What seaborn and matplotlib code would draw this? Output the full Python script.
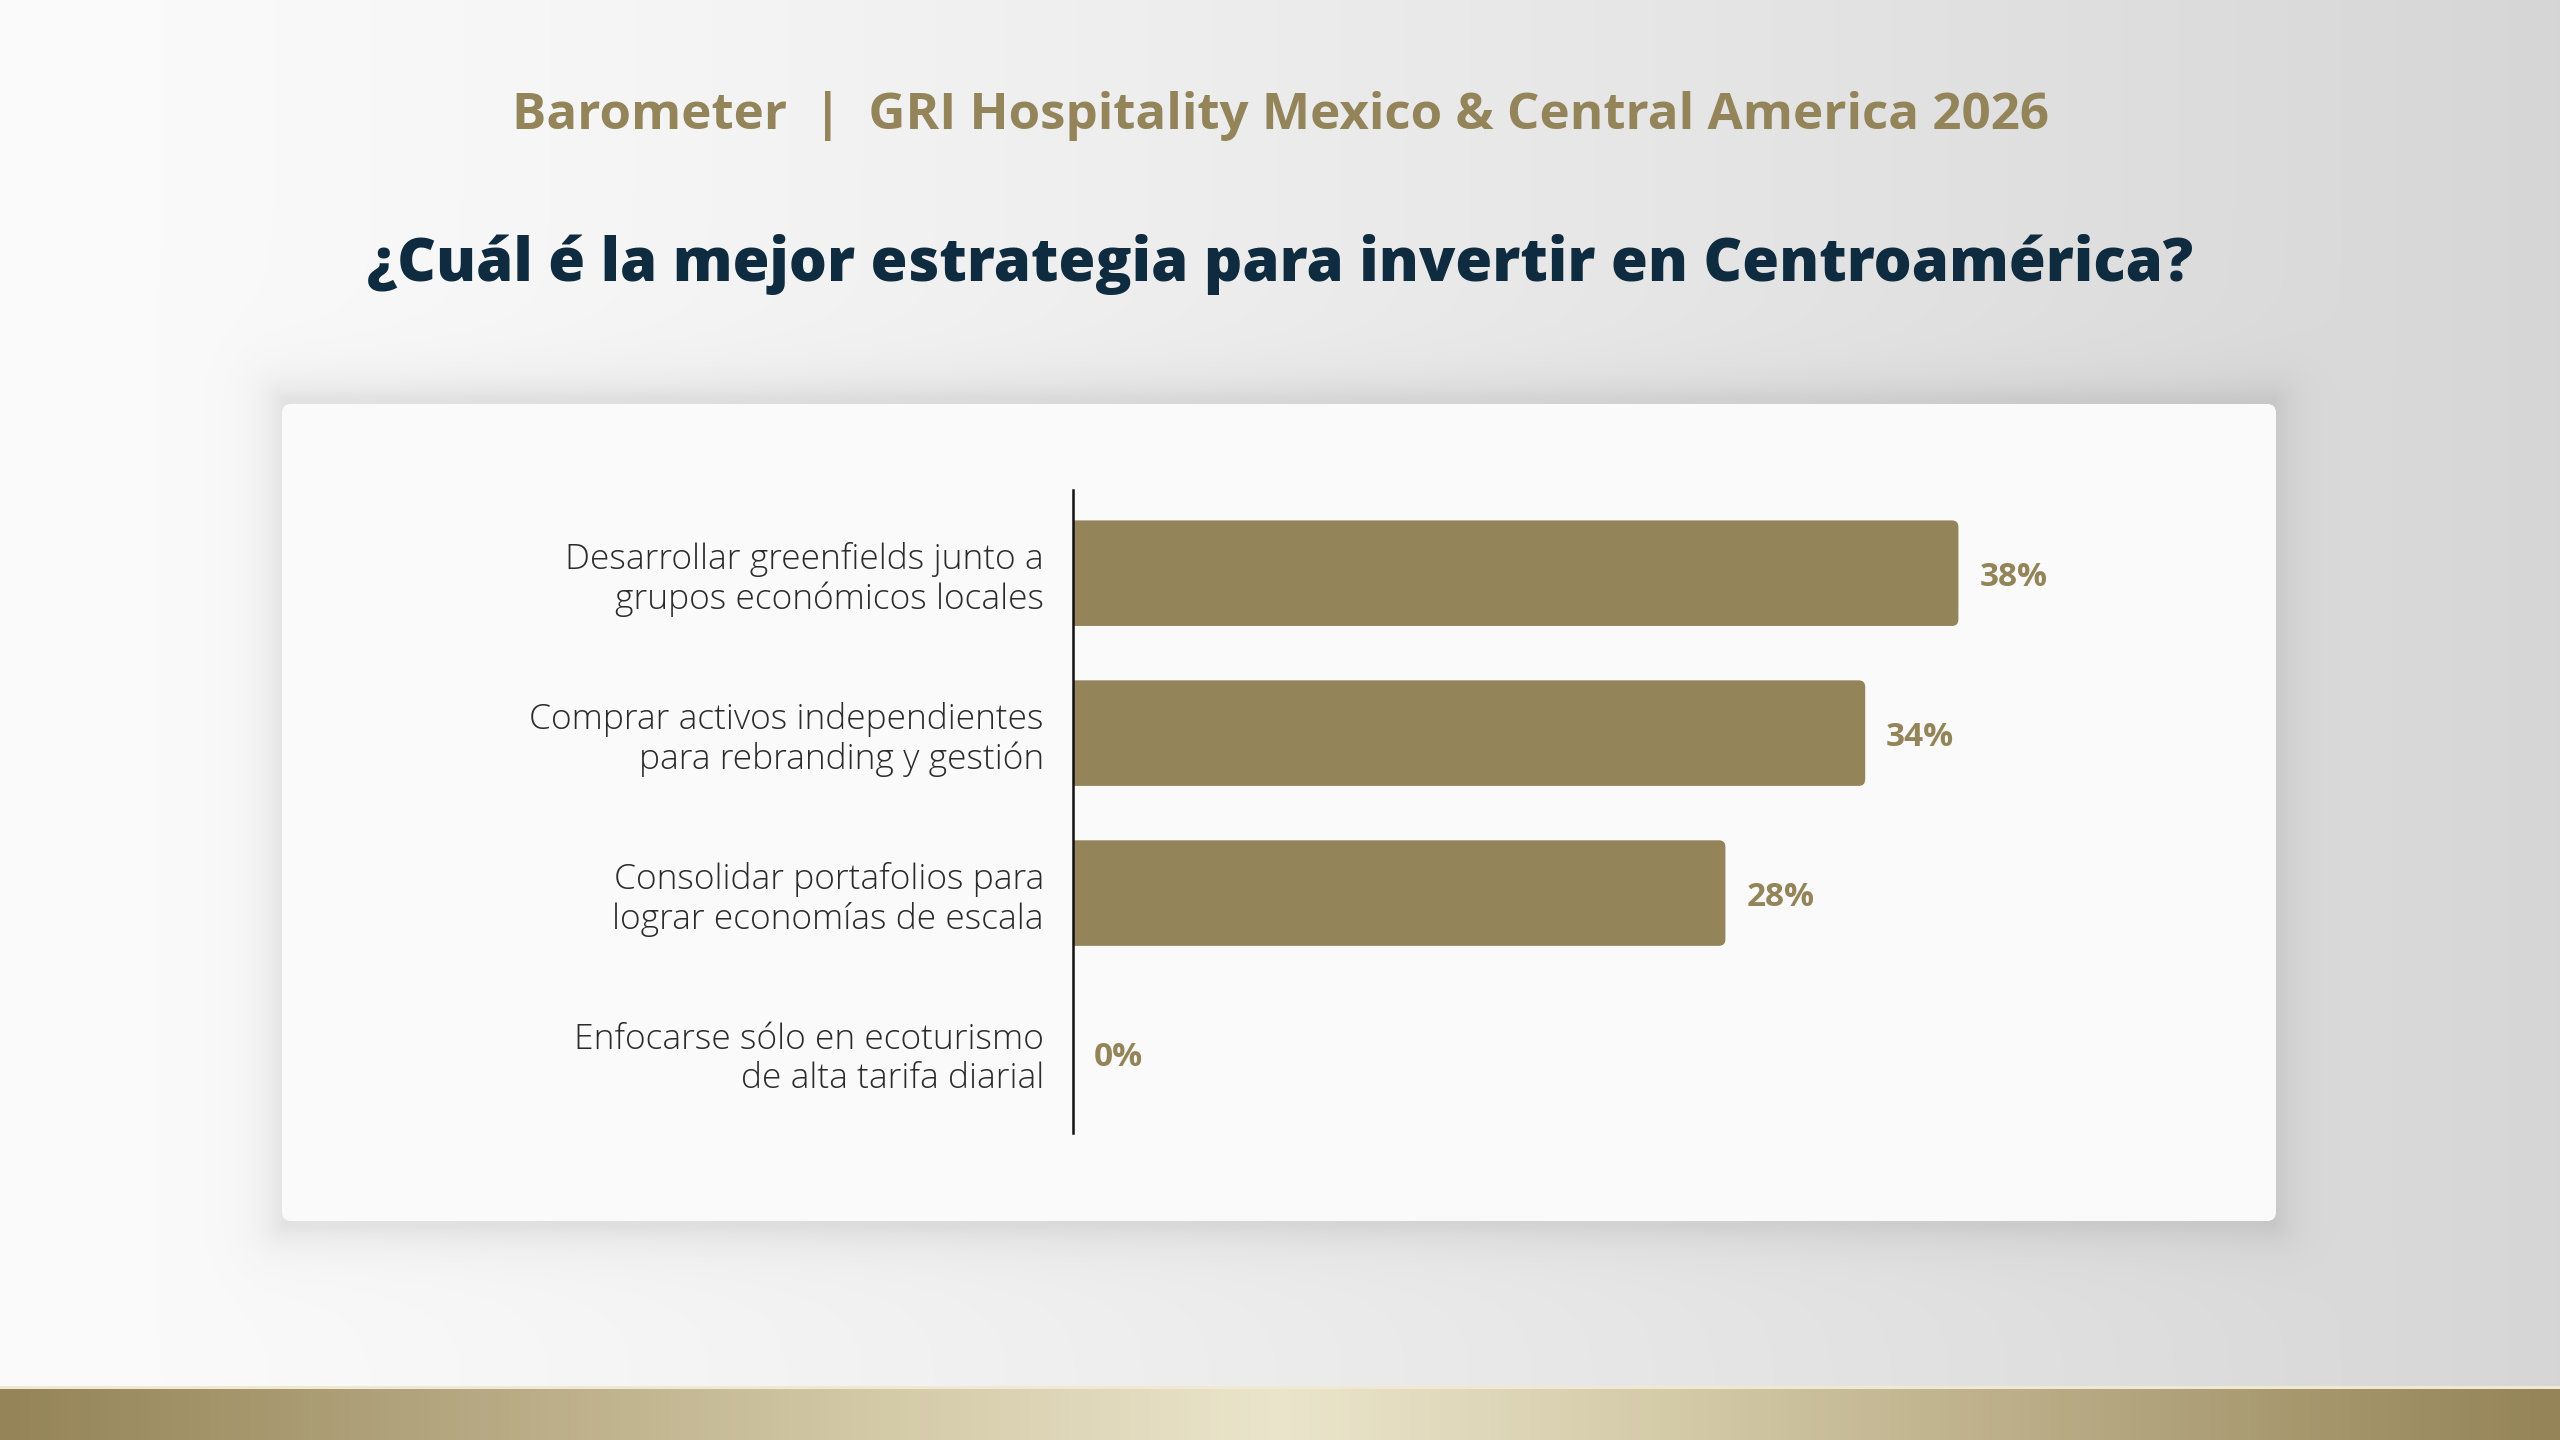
import numpy as np
import pandas as pd
import matplotlib
matplotlib.use("Agg")
import matplotlib.pyplot as plt
from matplotlib.patches import FancyBboxPatch, Rectangle
from matplotlib.colors import LinearSegmentedColormap
import seaborn as sns

# --- data ---
categories = [
    "Desarrollar greenfields junto a\ngrupos económicos locales",
    "Comprar activos independientes\npara rebranding y gestión",
    "Consolidar portafolios para\nlograr economías de escala",
    "Enfocarse sólo en ecoturismo\nde alta tarifa diarial",
]
values = [38, 34, 28, 0]
value_labels = ["38%", "34%", "28%", "0%"]

header = "Barometer  |  GRI Hospitality Mexico & Central America 2026"
question = "¿Cuál é la mejor estrategia para invertir en Centroamérica?"

GOLD = "#94845a"
NAVY = "#0f2b40"
TEXT = "#2b2b2b"
FONT = ["Open Sans", "DejaVu Sans"]

sns.set_theme(style="white")
plt.rcParams["font.family"] = FONT

W, H = 2560, 1440
fig = plt.figure(figsize=(25.6, 14.4), dpi=100)

# --- background in pixel coordinates ---
bg = fig.add_axes([0, 0, 1, 1], zorder=0)
bg.set_xlim(0, W)
bg.set_ylim(H, 0)
bg.axis("off")

xs = np.linspace(0, 1, 640)
ys = np.linspace(0, 1, 360)
gx, gy = np.meshgrid(xs, ys)
shade = 251 - 37 * gx ** 1.3
# soft shadow around the white panel
px0, px1, py0, py1 = 282, 2276, 404, 1221
X = gx * W
Y = gy * H
dx = np.maximum(np.maximum(px0 - X, X - px1), 0)
dy = np.maximum(np.maximum(py0 - 6 - Y, Y - py1 - 6), 0)
d = np.hypot(dx, dy)
shade = shade * (1 - 0.09 * np.exp(-d / 22.0))
img = np.dstack([shade, shade, shade]) / 255.0
bg.imshow(img, extent=[0, W, H, 0], aspect="auto", interpolation="bilinear", zorder=0)

panel = FancyBboxPatch((px0, py0), px1 - px0, py1 - py0,
                       boxstyle="round,pad=0,rounding_size=9",
                       facecolor="#fafafa", edgecolor="none", zorder=2)
bg.add_patch(panel)

# bottom golden band
band_cmap = LinearSegmentedColormap.from_list(
    "band", ["#948457", "#b3a57e", "#d2c8a5", "#ebe5cc", "#d2c8a5", "#b3a57e", "#948457"])
band = np.linspace(0, 1, 512).reshape(1, -1)
bg.imshow(band, cmap=band_cmap, extent=[0, W, H, 1388], aspect="auto", zorder=3)
bg.add_patch(Rectangle((0, 1386), W, 3, facecolor="#efe9d4", edgecolor="none", zorder=4))

# titles
bg.text(W / 2, 129, header, ha="center", va="baseline", fontsize=36.8,
        fontweight="bold", color=GOLD, zorder=5)
bg.text(W / 2, 281, question, ha="center", va="baseline", fontsize=43,
        fontweight="heavy", color=NAVY, zorder=5)

# --- bar chart ---
ax_left, ax_right = 1073, 1073 + 50 * 23.3
ax_top, ax_bottom = 490, 1133
ax = fig.add_axes([ax_left / W, 1 - ax_bottom / H, (ax_right - ax_left) / W,
                   (ax_bottom - ax_top) / H], zorder=6)
ax.patch.set_alpha(0)

df = pd.DataFrame({"estrategia": categories, "pct": values})
sns.barplot(data=df, x="pct", y="estrategia", orient="h", color=GOLD,
            width=0.66, saturation=1, ax=ax)

# rounded bar ends
for p in list(ax.patches):
    x0, y0 = p.get_x(), p.get_y()
    w, h = p.get_width(), p.get_height()
    p.remove()
    if w <= 0:
        continue
    rb = FancyBboxPatch((x0 - 0.5, y0), w + 0.5, h,
                        boxstyle="round,pad=0,rounding_size=0.28",
                        mutation_aspect=0.145, facecolor=GOLD, edgecolor="none")
    ax.add_patch(rb)

ax.set_xlim(0, 50)
ax.set_ylim(3.5, -0.52)
ax.set_xlabel("")
ax.set_ylabel("")
ax.set_xticks([])
for s in ["top", "right", "bottom"]:
    ax.spines[s].set_visible(False)
ax.spines["left"].set_color("#111111")
ax.spines["left"].set_linewidth(1.8)
ax.tick_params(axis="y", length=0, pad=21)
for lbl in ax.get_yticklabels():
    lbl.set_fontsize(25.5)
    lbl.set_fontweight("light")
    lbl.set_color(TEXT)
    lbl.set_linespacing(1.18)

for i, (v, t) in enumerate(zip(values, value_labels)):
    ax.text(v + 0.9, i, t, ha="left", va="center_baseline", fontsize=24,
            fontweight="bold", color=GOLD)

fig.savefig("out.png", dpi=100)
